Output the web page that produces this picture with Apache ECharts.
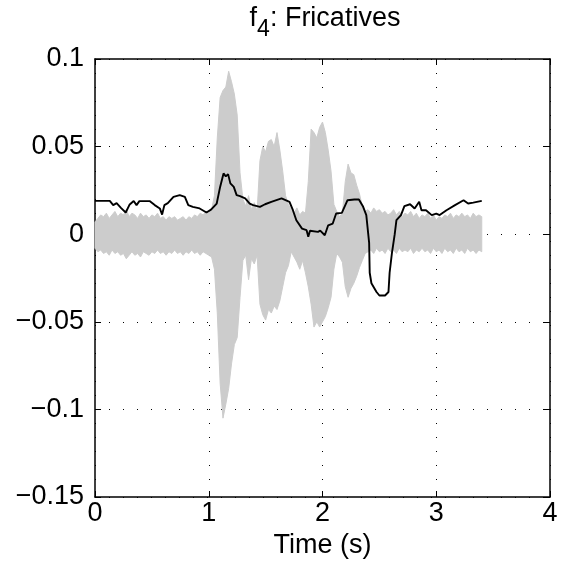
<!DOCTYPE html>
<html><head><meta charset="utf-8">
<script src="https://cdn.jsdelivr.net/npm/echarts@6/dist/echarts.min.js"></script>
<style>html,body{margin:0;padding:0;background:#fff}#c{width:563px;height:572px}</style>
</head><body><div id="c"></div>
<script>
// gray speech waveform: envelope samples every STEP seconds starting at t=0
const STEP = 0.025;
const waveUpper = [
  0.007,0.009,0.011,0.010,0.012,0.009,0.011,0.013,0.010,0.012,
  0.011,0.014,0.010,0.012,0.011,0.009,0.012,0.010,0.011,0.009,
  0.011,0.010,0.012,0.009,0.010,0.008,0.010,0.009,0.010,0.008,
  0.009,0.010,0.008,0.010,0.009,0.011,0.010,0.012,0.011,0.013,
  0.012,0.014,0.022,0.055,0.078,0.082,0.084,0.093,0.087,0.080,
  0.068,0.035,0.020,0.016,0.022,0.014,0.018,0.013,0.042,0.050,
  0.047,0.053,0.054,0.050,0.058,0.048,0.036,0.022,0.017,0.014,
  0.012,0.015,0.011,0.013,0.012,0.030,0.060,0.058,0.055,0.061,
  0.064,0.058,0.048,0.036,0.017,0.013,0.010,0.012,0.030,0.040,
  0.035,0.034,0.028,0.023,0.016,0.013,0.014,0.012,0.015,0.013,
  0.014,0.012,0.013,0.011,0.012,0.014,0.011,0.013,0.010,0.012,
  0.011,0.013,0.010,0.012,0.009,0.011,0.010,0.012,0.009,0.011,
  0.008,0.010,0.009,0.011,0.010,0.012,0.009,0.011,0.010,0.012,
  0.010,0.011,0.009,0.012,0.010,0.011,0.010
];
const waveLower = [
  -0.008,-0.010,-0.009,-0.011,-0.010,-0.012,-0.009,-0.011,-0.010,-0.012,
  -0.011,-0.014,-0.012,-0.010,-0.012,-0.011,-0.013,-0.010,-0.011,-0.012,
  -0.010,-0.011,-0.009,-0.011,-0.010,-0.012,-0.010,-0.011,-0.009,-0.011,
  -0.010,-0.012,-0.010,-0.011,-0.009,-0.011,-0.010,-0.012,-0.010,-0.011,
  -0.012,-0.013,-0.020,-0.045,-0.085,-0.105,-0.097,-0.088,-0.074,-0.063,
  -0.059,-0.036,-0.015,-0.012,-0.026,-0.014,-0.017,-0.012,-0.040,-0.046,
  -0.049,-0.043,-0.045,-0.041,-0.043,-0.038,-0.030,-0.022,-0.018,-0.010,
  -0.013,-0.016,-0.020,-0.015,-0.022,-0.030,-0.040,-0.053,-0.050,-0.053,
  -0.050,-0.047,-0.042,-0.036,-0.020,-0.011,-0.013,-0.016,-0.030,-0.036,
  -0.031,-0.028,-0.024,-0.019,-0.015,-0.011,-0.010,-0.009,-0.011,-0.008,
  -0.010,-0.009,-0.011,-0.008,-0.010,-0.009,-0.011,-0.008,-0.010,-0.009,
  -0.010,-0.008,-0.011,-0.009,-0.010,-0.008,-0.010,-0.009,-0.011,-0.008,
  -0.010,-0.009,-0.011,-0.008,-0.010,-0.009,-0.011,-0.008,-0.010,-0.009,
  -0.011,-0.008,-0.010,-0.009,-0.011,-0.009,-0.010
];
// black feature curve
const curveTime = [
  0,0.13,0.16,0.19,0.23,0.27,0.305,0.34,0.365,0.39,
  0.48,0.525,0.57,0.59,0.61,0.64,0.69,0.745,0.79,0.82,
  0.86,0.92,0.98,1.02,1.07,1.10,1.13,1.15,1.17,1.19,
  1.22,1.245,1.275,1.32,1.36,1.39,1.45,1.495,1.55,1.64,
  1.71,1.74,1.77,1.82,1.86,1.875,1.89,1.905,1.96,1.98,
  2.02,2.05,2.09,2.12,2.17,2.22,2.28,2.32,2.355,2.385,
  2.40,2.41,2.415,2.43,2.475,2.50,2.55,2.58,2.59,2.61,
  2.635,2.65,2.69,2.72,2.77,2.81,2.85,2.87,2.91,2.96,
  3.00,3.03,3.09,3.165,3.24,3.28,3.325,3.40
];
const curveValue = [
  0.019,0.019,0.0166,0.0177,0.0149,0.0124,0.017,0.019,0.0166,0.0189,
  0.0189,0.0166,0.0147,0.0112,0.0166,0.0177,0.0213,0.0223,0.0213,0.0166,
  0.0156,0.0147,0.0124,0.014,0.0175,0.027,0.0347,0.033,0.0343,0.029,
  0.027,0.0223,0.0217,0.0204,0.0175,0.0166,0.0156,0.0171,0.0185,0.0204,
  0.0185,0.0137,0.008,0.0032,0.0023,-0.0015,0.002,0.0013,0.0013,0.002,
  -0.0006,0.0051,0.0061,0.0118,0.0122,0.0194,0.0198,0.0198,0.016,0.0109,
  0.010,-0.005,-0.022,-0.028,-0.033,-0.035,-0.035,-0.033,-0.022,-0.011,
  0.0,0.008,0.0109,0.016,0.0171,0.0147,0.0185,0.0137,0.0137,0.0109,
  0.0118,0.0109,0.0137,0.0166,0.0194,0.0175,0.018,0.019
];
const xTickLabels = ['0','1','2','3','4'];
const yTickValues = [-0.15,-0.1,-0.05,0,0.05,0.1];
const yTickLabels = ['\u22120.15','\u22120.1','\u22120.05','0','0.05','0.1'];

const FONT = 'Liberation Sans, Arial, Helvetica, sans-serif';
const GRAY = '#cccccc';
const curve = curveTime.map((t, i) => [t, curveValue[i]]);

const axisLineStyle = {color: '#000', width: 1.5};
const tickStyle = {show: true, inside: true, length: 6, lineStyle: {color: '#000', width: 1}};
const dotted = {show: true, lineStyle: {color: '#000', width: 1, type: [1, 13]}};

// waveform band drawn as one polygon through the axis scales
function renderWave(params, api) {
  const pts = [];
  for (let i = 0; i < waveUpper.length; i++) pts.push(api.coord([i * STEP, waveUpper[i]]));
  for (let i = waveLower.length - 1; i >= 0; i--) pts.push(api.coord([i * STEP, waveLower[i]]));
  return {type: 'polygon', shape: {points: pts}, style: {fill: GRAY, stroke: GRAY, lineWidth: 1}};
}

const chart = echarts.init(document.getElementById('c'), null, {renderer: 'canvas'});
chart.setOption({
  animation: false,
  backgroundColor: '#fff',
  grid: {left: 95, right: 13, top: 59, bottom: 75, containLabel: false, outerBoundsMode: 'none'},
  graphic: [{
    type: 'text', x: 325, y: 5, z: 10,
    style: {
      text: '{a|f}{s|4}{a|: Fricatives}',
      align: 'center', verticalAlign: 'top',
      rich: {
        a: {fontSize: 27, lineHeight: 30, verticalAlign: 'top', fontFamily: FONT, fill: '#000', color: '#000'},
        s: {fontSize: 23, lineHeight: 30, padding: [13, 0, 0, 0], verticalAlign: 'top', fontFamily: FONT, fill: '#000', color: '#000'}
      }
    }
  }],
  xAxis: [{
    type: 'value', min: 0, max: 4, interval: 1, position: 'bottom',
    axisLine: {show: true, onZero: false, lineStyle: axisLineStyle},
    axisTick: tickStyle,
    axisLabel: {color: '#000', fontSize: 27, fontFamily: FONT, margin: 3,
      formatter: v => xTickLabels[Math.round(v)]},
    splitLine: dotted,
    name: 'Time (s)', nameLocation: 'middle', nameGap: 30,
    nameTextStyle: {color: '#000', fontSize: 27, fontFamily: FONT}
  }, {
    type: 'value', min: 0, max: 4, interval: 1, position: 'top',
    axisLine: {show: true, onZero: false, lineStyle: axisLineStyle},
    axisTick: tickStyle, axisLabel: {show: false}, splitLine: {show: false}
  }],
  yAxis: [{
    type: 'value', min: -0.15, max: 0.1, interval: 0.05, position: 'left',
    axisLine: {show: true, onZero: false, lineStyle: axisLineStyle},
    axisTick: tickStyle,
    axisLabel: {color: '#000', fontSize: 27, fontFamily: FONT, margin: 11,
      formatter: v => {
        let best = 0;
        for (let i = 0; i < yTickValues.length; i++) {
          if (Math.abs(yTickValues[i] - v) < Math.abs(yTickValues[best] - v)) best = i;
        }
        return yTickLabels[best];
      }},
    splitLine: dotted
  }, {
    type: 'value', min: -0.15, max: 0.1, interval: 0.05, position: 'right',
    axisLine: {show: true, onZero: false, lineStyle: axisLineStyle},
    axisTick: tickStyle, axisLabel: {show: false}, splitLine: {show: false}
  }],
  series: [{
    type: 'custom', xAxisIndex: 0, yAxisIndex: 0, coordinateSystem: 'cartesian2d',
    data: [[0, 0]], encode: {x: 0, y: 1}, renderItem: renderWave,
    silent: true, z: 2
  }, {
    type: 'line', xAxisIndex: 0, yAxisIndex: 0, data: curve,
    symbol: 'none', showSymbol: false, silent: true, z: 3,
    lineStyle: {color: '#000', width: 1.9}
  }]
});
</script>
</body></html>
